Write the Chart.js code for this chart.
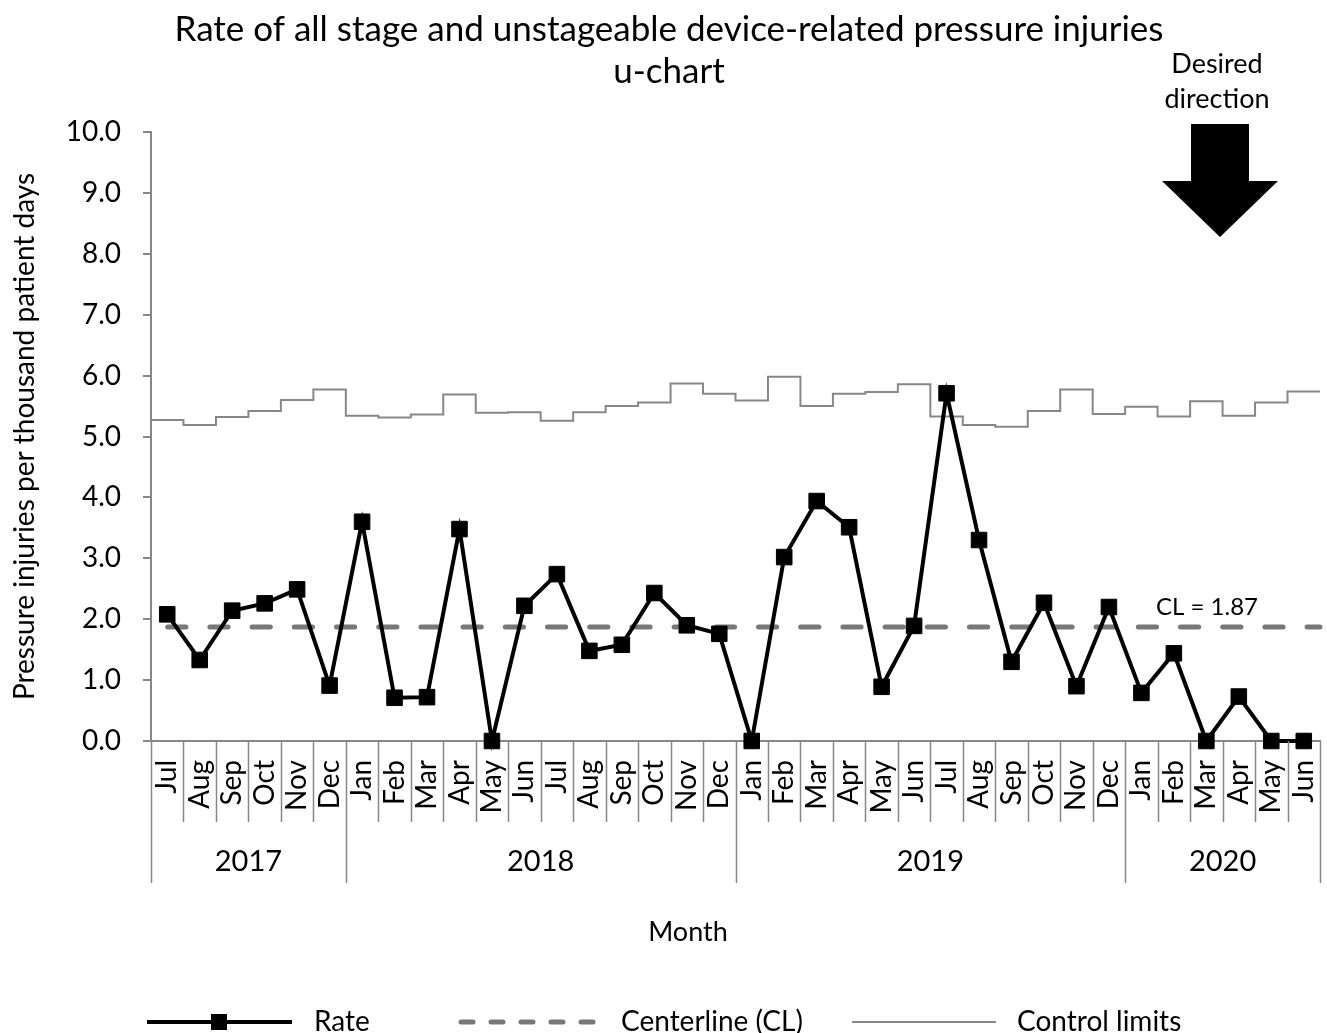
<!DOCTYPE html>
<html>
<head>
<meta charset="utf-8">
<title>u-chart</title>
<script src="https://cdn.jsdelivr.net/npm/chart.js@4.4.0/dist/chart.umd.min.js"></script>
<style>
body { margin: 0; background: #fff; }
#wrap { width: 1327px; height: 1033px; }
</style>
</head>
<body>
<div id="wrap"><canvas id="uChart"></canvas></div>
<script>
// data (Jul 2017 - Jun 2020)
var months = ['Jul', 'Aug', 'Sep', 'Oct', 'Nov', 'Dec',
              'Jan', 'Feb', 'Mar', 'Apr', 'May', 'Jun', 'Jul', 'Aug', 'Sep', 'Oct', 'Nov', 'Dec',
              'Jan', 'Feb', 'Mar', 'Apr', 'May', 'Jun', 'Jul', 'Aug', 'Sep', 'Oct', 'Nov', 'Dec',
              'Jan', 'Feb', 'Mar', 'Apr', 'May', 'Jun'];
var yearLabels = ['2017', '2018', '2019', '2020'];
var yearSpans = [6, 12, 12, 6];
var rate = [2.08, 1.33, 2.14, 2.26, 2.49, 0.91,
            3.60, 0.71, 0.72, 3.48, 0.00, 2.22, 2.74, 1.48, 1.58, 2.43, 1.90, 1.76,
            0.00, 3.02, 3.94, 3.51, 0.89, 1.89, 5.71, 3.30, 1.30, 2.27, 0.90, 2.20,
            0.79, 1.44, 0.00, 0.73, 0.00, 0.00];
var controlLimit = [5.27, 5.19, 5.32, 5.42, 5.60, 5.77,
                    5.34, 5.31, 5.36, 5.69, 5.39, 5.40, 5.26, 5.40, 5.50, 5.56, 5.87, 5.70,
                    5.59, 5.98, 5.50, 5.70, 5.73, 5.86, 5.33, 5.19, 5.16, 5.42, 5.77, 5.37,
                    5.49, 5.33, 5.58, 5.34, 5.56, 5.74];
var centerline = 1.87;
var yTicks = [0, 1, 2, 3, 4, 5, 6, 7, 8, 9, 10];

var FONT = 'Lato, "Open Sans", sans-serif';
var AXIS_GREY = '#878787';
var CL_GREY = '#787878';

// step lines go across the full width of each month
function stepPoints(values) {
    var pts = values.map(function(v, i) { return { x: i - 0.5, y: v }; });
    pts.push({ x: values.length - 0.5, y: values[values.length - 1] });
    return pts;
}

Chart.defaults.font.family = FONT;
Chart.defaults.color = '#000';

var extras = {
    id: 'extras',
    afterDraw: function(chart) {
        var ctx = chart.ctx;
        var area = chart.chartArea;
        var xs = chart.scales.xs;
        var y = chart.scales.y;
        ctx.save();

        // month / year separators below the axis
        ctx.strokeStyle = AXIS_GREY;
        ctx.lineWidth = 1.5;
        var bounds = [0];
        var acc = 0;
        yearSpans.forEach(function(n) { acc += n; bounds.push(acc); });
        for (var i = 0; i <= months.length; i++) {
            var px = Math.round(xs.getPixelForValue(i - 0.5)) + 0.5;
            var isYear = bounds.indexOf(i) >= 0;
            ctx.beginPath();
            ctx.moveTo(px, area.bottom);
            ctx.lineTo(px, area.bottom + (isYear ? 142 : 81));
            ctx.stroke();
        }

        ctx.fillStyle = '#000';
        ctx.textAlign = 'center';
        ctx.textBaseline = 'middle';
        ctx.font = '29px ' + FONT;
        for (var k = 0; k < yearLabels.length; k++) {
            var cx = (xs.getPixelForValue(bounds[k] - 0.5) + xs.getPixelForValue(bounds[k + 1] - 0.5)) / 2;
            ctx.fillText(yearLabels[k], cx, area.bottom + 121);
        }

        // axis titles
        ctx.font = '27px ' + FONT;
        ctx.fillText('Month', 688, 932);
        ctx.font = '28px ' + FONT;
        ctx.save();
        ctx.translate(25, (area.top + area.bottom) / 2);
        ctx.rotate(-Math.PI / 2);
        ctx.fillText('Pressure injuries per thousand patient days', 0, 0);
        ctx.restore();

        // centerline label
        ctx.font = '24px ' + FONT;
        ctx.fillText('CL = ' + centerline.toFixed(2), 1207, y.getPixelForValue(centerline) - 20);

        // desired direction
        ctx.font = '27px ' + FONT;
        ctx.fillText('Desired', 1217, 64);
        ctx.fillText('direction', 1217, 99);
        ctx.beginPath();
        ctx.moveTo(1191, 124);
        ctx.lineTo(1249, 124);
        ctx.lineTo(1249, 181);
        ctx.lineTo(1278, 181);
        ctx.lineTo(1220, 237);
        ctx.lineTo(1162, 181);
        ctx.lineTo(1191, 181);
        ctx.closePath();
        ctx.fill();

        // legend
        var ly = 1022;
        var ds = chart.data.datasets;
        ctx.font = '28px ' + FONT;
        ctx.textAlign = 'left';

        ctx.strokeStyle = ds[0].borderColor;
        ctx.lineWidth = ds[0].borderWidth;
        ctx.beginPath(); ctx.moveTo(147, ly); ctx.lineTo(292, ly); ctx.stroke();
        ctx.fillRect(211, ly - 8, 16, 16);
        ctx.fillText(ds[0].label, 314, ly);

        ctx.strokeStyle = ds[1].borderColor;
        ctx.lineWidth = ds[1].borderWidth;
        ctx.lineCap = 'round';
        ctx.setLineDash([12, 18]);
        ctx.beginPath(); ctx.moveTo(461, ly); ctx.lineTo(600, ly); ctx.stroke();
        ctx.setLineDash([]);
        ctx.lineCap = 'butt';
        ctx.fillText(ds[1].label, 621, ly);

        ctx.strokeStyle = ds[2].borderColor;
        ctx.lineWidth = ds[2].borderWidth;
        ctx.beginPath(); ctx.moveTo(852, ly); ctx.lineTo(996, ly); ctx.stroke();
        ctx.fillText(ds[2].label, 1017, ly);

        ctx.restore();
    }
};

var ctxU = document.getElementById('uChart').getContext('2d');
var uChart = new Chart(ctxU, {
    type: 'line',
    data: {
        labels: months,
        datasets: [{
            label: 'Rate',
            data: rate,
            xAxisID: 'x',
            borderColor: '#000',
            backgroundColor: '#000',
            borderWidth: 4,
            pointStyle: 'rect',
            pointRadius: 11,
            pointBorderWidth: 1,
            pointBorderColor: '#000',
            pointBackgroundColor: '#000',
            tension: 0,
            clip: false
        }, {
            label: 'Centerline (CL)',
            data: stepPoints(rate.map(function() { return centerline; })),
            xAxisID: 'xs',
            borderColor: CL_GREY,
            borderWidth: 5,
            borderDash: [18.2, 24],
            borderDashOffset: 25.5,
            borderCapStyle: 'round',
            pointRadius: 0,
            clip: false
        }, {
            label: 'Control limits',
            data: stepPoints(controlLimit),
            xAxisID: 'xs',
            borderColor: AXIS_GREY,
            borderWidth: 2,
            stepped: 'before',
            pointRadius: 0,
            clip: false
        }]
    },
    options: {
        responsive: true,
        maintainAspectRatio: false,
        animation: false,
        layout: { autoPadding: false, padding: { left: 18, right: 7, top: 0, bottom: 0 } },
        plugins: {
            legend: { display: false },
            tooltip: { enabled: false },
            title: {
                display: true,
                text: ['Rate of all stage and unstageable device-related pressure injuries', 'u-chart'],
                font: { size: 35, weight: 'normal', lineHeight: 1.2 },
                color: '#000',
                padding: { top: 9, bottom: 39 }
            }
        },
        scales: {
            x: {
                type: 'category',
                offset: true,
                grid: { display: false, drawTicks: false },
                border: { display: true, color: AXIS_GREY, width: 2 },
                ticks: {
                    autoSkip: false,
                    minRotation: 90,
                    maxRotation: 90,
                    padding: 19,
                    font: { size: 28 },
                    color: '#000'
                },
                afterFit: function(s) { s.height = 292; s.paddingLeft = 0; s.paddingRight = 0; }
            },
            xs: {
                type: 'linear',
                display: false,
                min: -0.5,
                max: months.length - 0.5
            },
            y: {
                min: 0,
                max: 10,
                afterBuildTicks: function(s) {
                    s.ticks = yTicks.map(function(v) { return { value: v }; });
                },
                grid: { drawOnChartArea: false, drawTicks: true, tickLength: 8, color: AXIS_GREY, lineWidth: 2 },
                border: { display: true, color: AXIS_GREY, width: 2 },
                ticks: {
                    padding: 22,
                    font: { size: 28 },
                    color: '#000',
                    callback: function(v) { return Number(v).toFixed(1); }
                },
                afterFit: function(s) { s.width = 133; s.paddingTop = 0; s.paddingBottom = 0; }
            }
        }
    },
    plugins: [extras]
});
</script>
</body>
</html>
